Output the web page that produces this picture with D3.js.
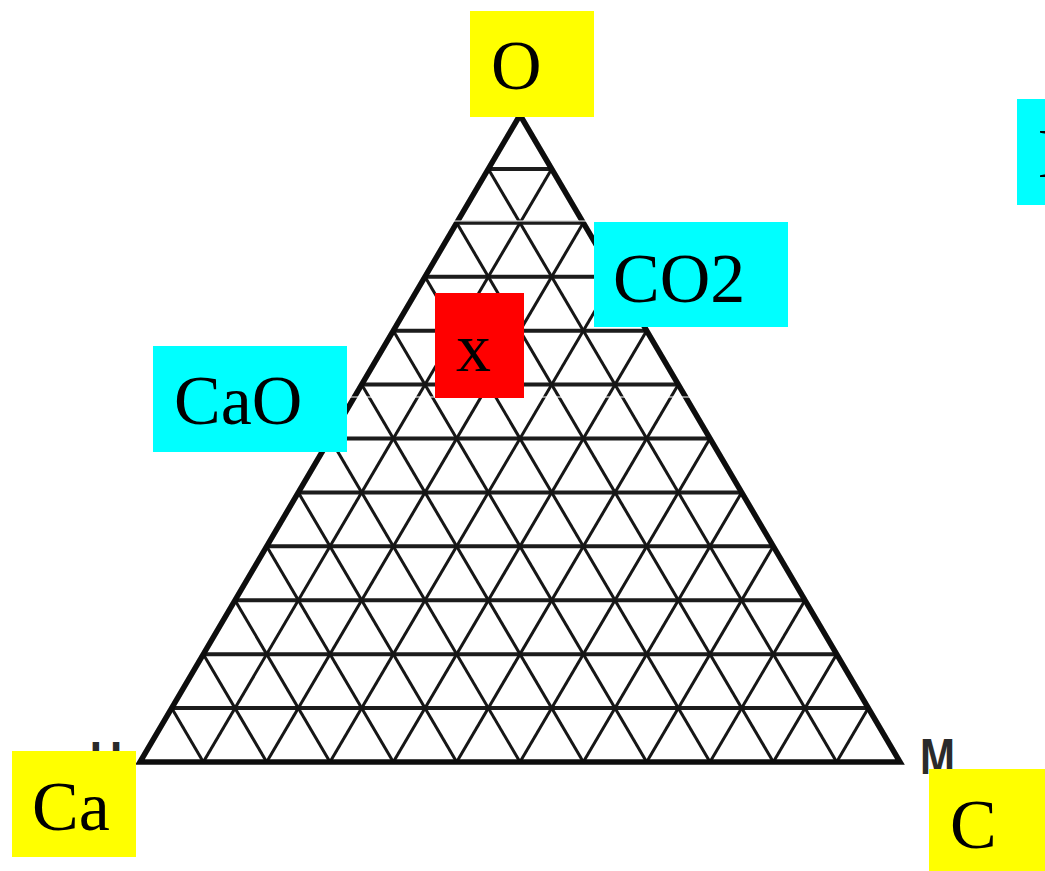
<!DOCTYPE html>
<html lang="en">
<head>
<meta charset="UTF-8"/>
<title>Ca-C-O</title>
<script src="https://d3js.org/d3.v7.min.js"></script>
<style type="text/css">
  body { margin: 0; background: #fff; }
  svg { display: block; }
  .lbl { font-family: "Liberation Serif", "Times New Roman", serif; font-size: 70px; fill: #000; }
  .corner { font-family: "Liberation Sans", Arial, sans-serif; font-weight: bold; font-size: 50px; fill: #2b2b2b; }
</style>
</head>
<body>
<div id="chart"></div>
<script>
// corners of the ternary diagram: left, right, top
var corners = ["Ca", "C", "O"]
// old axis letters left over on the scanned figure
var cornerMarks = ["U", "M"]
// compounds written on the edges, plus the unknown one
var compounds = ["CaO", "CO2"]
var unknown = ["x"]
// number of grid steps on each side
var divisions = 12

var width = 1045
    height = 871

var svg = d3.select("#chart")
  .append("svg")
    .attr("width", width)
    .attr("height", height)

var defs = svg.append("defs")
defs.append("filter").attr("id", "soft")
  .append("feGaussianBlur").attr("stdDeviation", 0.55)

// b = share of C, c = share of O
var x = d3.scaleLinear().domain([0, 1]).range([140, 900])
var y = d3.scaleLinear().domain([0, 1]).range([762, 115])
function pt(b, c) { return [x(b + c / 2), y(c)] }

var steps = d3.range(1, divisions).map(function(i) { return i / divisions })

var grid = svg.append("g").attr("filter", "url(#soft)")

// lines of constant O (horizontal)
grid.selectAll("line.h")
  .data(steps)
  .enter().append("line")
    .attr("class", "h")
    .attr("x1", function(t) { return pt(0, t)[0] })
    .attr("y1", function(t) { return pt(0, t)[1] })
    .attr("x2", function(t) { return pt(1 - t, t)[0] })
    .attr("y2", function(t) { return pt(1 - t, t)[1] })
    .attr("stroke", "#1c1c1c")
    .attr("stroke-width", 4)

// lines of constant Ca
grid.selectAll("line.a")
  .data(steps)
  .enter().append("line")
    .attr("class", "a")
    .attr("x1", function(t) { return pt(1 - t, 0)[0] })
    .attr("y1", function(t) { return pt(1 - t, 0)[1] })
    .attr("x2", function(t) { return pt(0, 1 - t)[0] })
    .attr("y2", function(t) { return pt(0, 1 - t)[1] })
    .attr("stroke", "#141414")
    .attr("stroke-width", 3)

// lines of constant C
grid.selectAll("line.b")
  .data(steps)
  .enter().append("line")
    .attr("class", "b")
    .attr("x1", function(t) { return pt(t, 0)[0] })
    .attr("y1", function(t) { return pt(t, 0)[1] })
    .attr("x2", function(t) { return pt(t, 1 - t)[0] })
    .attr("y2", function(t) { return pt(t, 1 - t)[1] })
    .attr("stroke", "#141414")
    .attr("stroke-width", 3)

// outline
grid.append("path")
  .attr("d", d3.line()([pt(0, 0), pt(1, 0), pt(0, 1)]) + "Z")
  .attr("fill", "none")
  .attr("stroke", "#0a0a0a")
  .attr("stroke-width", 5.5)
  .attr("stroke-linejoin", "miter")

// scan seams crossing the grid
svg.append("line").attr("x1", 450).attr("x2", 594).attr("y1", 221).attr("y2", 221)
  .attr("stroke", "#fff").attr("stroke-width", 1.2)
svg.append("line").attr("x1", 347).attr("x2", 725).attr("y1", 397).attr("y2", 397)
  .attr("stroke", "#fff").attr("stroke-width", 1.2)

// faint corner letters from the source figure
svg.append("text").attr("class", "corner").attr("x", 90).attr("y", 777)
  .attr("textLength", 32).attr("lengthAdjust", "spacingAndGlyphs").text(cornerMarks[0])
svg.append("text").attr("class", "corner").attr("x", 920).attr("y", 774)
  .attr("textLength", 35).attr("lengthAdjust", "spacingAndGlyphs").text(cornerMarks[1])

// label boxes
function box(x0, y0, w, h, fill, label, tx, ty) {
  svg.append("rect").attr("x", x0).attr("y", y0).attr("width", w).attr("height", h).attr("fill", fill)
  svg.append("text").attr("class", "lbl").attr("x", tx).attr("y", ty).text(label)
}

box(470, 11, 124, 106, "#ffff00", corners[2], 491, 89)
box(12, 751, 124, 106, "#ffff00", corners[0], 32, 830)
box(929, 769, 120, 102, "#ffff00", corners[1], 950, 848)
box(594, 222, 194, 105, "#00ffff", compounds[1], 613, 302)
box(153, 346, 194, 106, "#00ffff", compounds[0], 174, 424)
box(435, 293, 89, 105, "#ff0000", unknown[0], 456, 371)
// partly cut-off box on the right edge
box(1017, 99, 40, 106, "#00ffff", "H", 1038, 177)

</script>
</body>
</html>
